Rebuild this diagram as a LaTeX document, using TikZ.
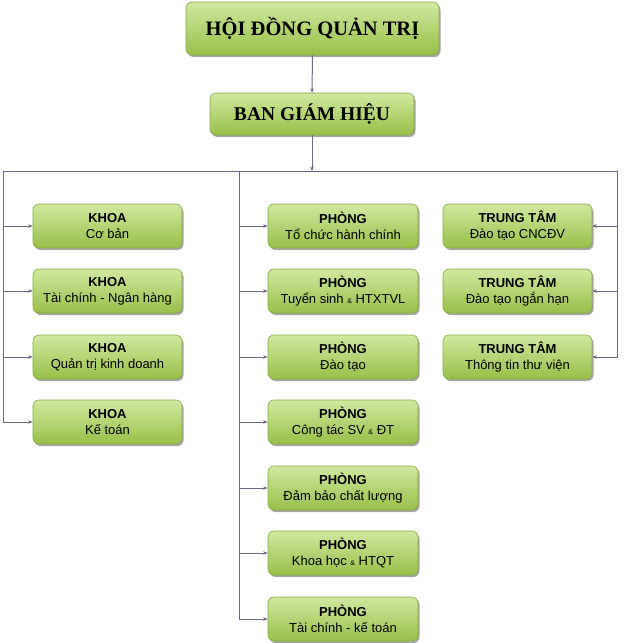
\documentclass[tikz,border=0pt]{standalone}
\usepackage{fontspec}
\setmainfont{Liberation Sans}
\newfontfamily\titlefont{Liberation Serif}
\usetikzlibrary{arrows.meta,shadows}
\definecolor{lineC}{RGB}{112,100,140}
\definecolor{gTop}{RGB}{208,232,160}
\definecolor{gBot}{RGB}{152,192,72}
\definecolor{gEdge}{RGB}{135,170,70}
\tikzset{
  x=1pt, y=-1pt,
  box/.style={rectangle, rounded corners=6pt, draw=gEdge, line width=0.6pt,
    top color=gTop, bottom color=gBot, align=center, inner sep=0pt,
    drop shadow={shadow xshift=1.5pt, shadow yshift=-2pt, fill=black, opacity=0.35}},
  smallbox/.style={box, minimum height=44pt, font=\fontsize{13}{16}\selectfont},
  kbox/.style={smallbox, minimum width=149pt},
  pbox/.style={smallbox, minimum width=150pt},
  tbox/.style={smallbox, minimum width=149pt},
  conn/.style={draw=lineC, line width=1pt},
  arr/.style={conn, -{Stealth[length=4.5pt,width=3.5pt]}},
}
\newcommand{\amp}{{\fontsize{7}{8}\selectfont\&}}
\begin{document}
\begin{tikzpicture}
\useasboundingbox (0,0) rectangle (625,643);
% top boxes
\node[box, minimum width=253pt, minimum height=53pt, font=\titlefont\bfseries\fontsize{20.5}{24}\selectfont] (hdqt) at (312.5,28.5) {HỘI ĐỒNG QUẢN TRỊ};
\node[box, minimum width=204pt, minimum height=42pt, font=\titlefont\bfseries\fontsize{19.5}{22}\selectfont] (bgh) at (312,114) {BAN GIÁM HIỆU};
% Khoa
\node[kbox] (k1) at (107.5,226) {\textbf{KHOA}\\Cơ bản};
\node[kbox] (k2) at (107.5,291) {\textbf{KHOA}\\Tài chính - Ngân hàng};
\node[kbox] (k3) at (107.5,357) {\textbf{KHOA}\\Quản trị kinh doanh};
\node[kbox] (k4) at (107.5,422) {\textbf{KHOA}\\Kế toán};
% Phong
\node[pbox] (p1) at (343,226) {\textbf{PHÒNG}\\Tổ chức hành chính};
\node[pbox] (p2) at (343,291) {\textbf{PHÒNG}\\Tuyển sinh \amp{} HTXTVL};
\node[pbox] (p3) at (343,357) {\textbf{PHÒNG}\\Đào tạo};
\node[pbox] (p4) at (343,422) {\textbf{PHÒNG}\\Công tác SV \amp{} ĐT};
\node[pbox] (p5) at (343,488) {\textbf{PHÒNG}\\Đảm bảo chất lượng};
\node[pbox] (p6) at (343,553) {\textbf{PHÒNG}\\Khoa học \amp{} HTQT};
\node[pbox] (p7) at (343,619) {\textbf{PHÒNG}\\Tài chính - kế toán};
% Trung tam
\node[tbox] (t1) at (517.5,226) {\textbf{TRUNG TÂM}\\Đào tạo CNCĐV};
\node[tbox] (t2) at (517.5,291) {\textbf{TRUNG TÂM}\\Đào tạo ngắn hạn};
\node[tbox] (t3) at (517.5,357) {\textbf{TRUNG TÂM}\\Thông tin thư viện};
% bus coordinates
\coordinate (hl) at (3,171);
\coordinate (hm) at (239,171);
\coordinate (hr) at (617,171);
% connectors
\draw[arr] (hdqt.south) -- (bgh.north);
\draw[arr] (bgh.south) -- (bgh.south |- hl);
\draw[conn] (hl) -- (hr);
\draw[arr] (k1.west -| hl) -- (k1.west);
\draw[arr] (k2.west -| hl) -- (k2.west);
\draw[arr] (k3.west -| hl) -- (k3.west);
\draw[arr] (hl) |- (k4.west);
\draw[arr] (p1.west -| hm) -- (p1.west);
\draw[arr] (p2.west -| hm) -- (p2.west);
\draw[arr] (p3.west -| hm) -- (p3.west);
\draw[arr] (p4.west -| hm) -- (p4.west);
\draw[arr] (p5.west -| hm) -- (p5.west);
\draw[arr] (p6.west -| hm) -- (p6.west);
\draw[arr] (hm) |- (p7.west);
\draw[arr] (t1.east -| hr) -- (t1.east);
\draw[arr] (t2.east -| hr) -- (t2.east);
\draw[arr] (hr) |- (t3.east);
\end{tikzpicture}
\end{document}
